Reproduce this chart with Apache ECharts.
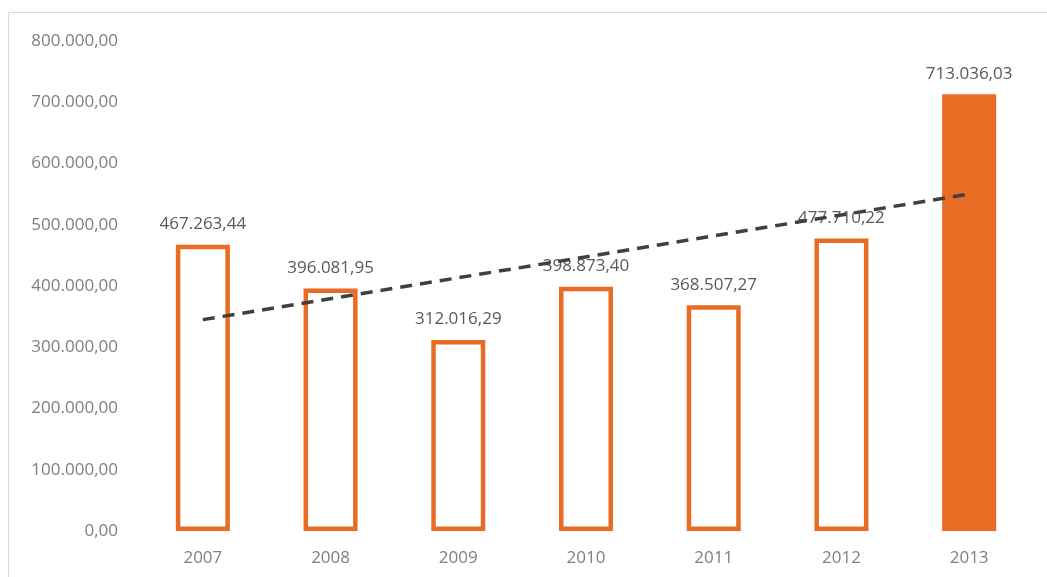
<!DOCTYPE html>
<html>
<head>
<meta charset="utf-8">
<style>
  html, body { margin: 0; padding: 0; background: #ffffff; }
  #chart { width: 1047px; height: 577px; }
</style>
<script src="https://cdn.jsdelivr.net/npm/echarts@6/dist/echarts.min.js"></script>
</head>
<body>
<div id="chart"></div>
<script>
// Annual amounts per year
const years = ['2007', '2008', '2009', '2010', '2011', '2012', '2013'];
const amounts = [467263.44, 396081.95, 312016.29, 398873.40, 368507.27, 477710.22, 713036.03];
// Linear trend line: values at the first and last year
const trendEnds = [345100, 550180];
// Y axis range
const yMin = 0;
const yMax = 800000;
const yStep = 100000;

const orange = '#E86C23';

function fmt(v) {
  const parts = v.toFixed(2).split('.');
  const intPart = parts[0].replace(/\B(?=(\d{3})+(?!\d))/g, '.');
  return intPart + ',' + parts[1];
}

const barData = amounts.map((v, i) => {
  const last = i === amounts.length - 1;
  return {
    value: v,
    itemStyle: last
      ? { color: orange, borderColor: orange, borderWidth: 0 }
      : { color: '#ffffff', borderColor: orange, borderWidth: 4.5 }
  };
});

const trendData = years.map((_, i) => {
  if (i === 0) return trendEnds[0];
  if (i === years.length - 1) return trendEnds[1];
  return null;
});

const chart = echarts.init(document.getElementById('chart'), null, { renderer: 'canvas' });
chart.setOption({
  animation: false,
  backgroundColor: '#ffffff',
  textStyle: { fontFamily: 'Open Sans' },
  grid: { left: 139, right: 14, top: 41, bottom: 46 },
  graphic: [
    { type: 'line', shape: { x1: 8.5, y1: 12, x2: 8.5, y2: 577 }, style: { stroke: '#d9d9d9', lineWidth: 1 } },
    { type: 'line', shape: { x1: 8, y1: 12.5, x2: 1047, y2: 12.5 }, style: { stroke: '#d9d9d9', lineWidth: 1 } }
  ],
  xAxis: {
    type: 'category',
    data: years,
    axisLine: { show: false },
    axisTick: { show: false },
    axisLabel: { color: '#7f7f7f', fontSize: 17, margin: 19 }
  },
  yAxis: {
    type: 'value',
    min: yMin,
    max: yMax,
    interval: yStep,
    splitLine: { show: false },
    axisLine: { show: false },
    axisTick: { show: false },
    axisLabel: { color: '#7f7f7f', fontSize: 17, margin: 21, formatter: v => fmt(v) }
  },
  series: [
    {
      type: 'bar',
      data: barData,
      barWidth: 54,
      label: {
        show: true,
        position: 'top',
        distance: 12,
        color: '#595959',
        fontSize: 17,
        formatter: p => fmt(p.value)
      },
      z: 2
    },
    {
      type: 'line',
      data: trendData,
      connectNulls: true,
      symbol: 'none',
      lineStyle: { color: '#404040', width: 3.5, type: [12, 8] },
      z: 3
    }
  ]
});
</script>
</body>
</html>
